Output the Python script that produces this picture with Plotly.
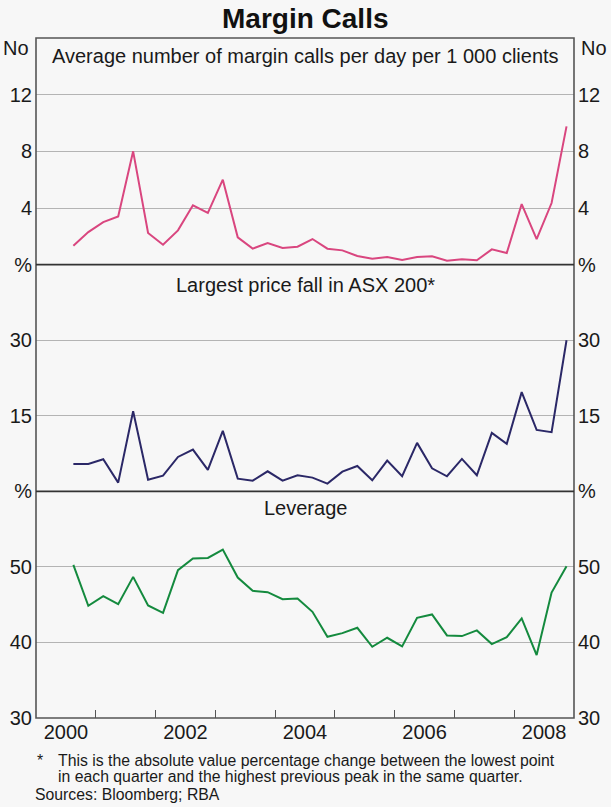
import plotly.graph_objects as go

# Quarters from 2000 Q3 to 2008 Q4
quarters = [f"{y}-Q{q}" for y in range(2000, 2009) for q in range(1, 5)][2:]

margin_calls = [1.34, 2.3, 3.0, 3.4, 8.0, 2.24, 1.41, 2.42, 4.19, 3.65, 6.0, 1.93,
                1.13, 1.53, 1.18, 1.27, 1.81, 1.13, 1.01, 0.61, 0.42, 0.54, 0.33,
                0.54, 0.59, 0.28, 0.38, 0.31, 1.08, 0.82, 4.28, 1.81, 4.35, 9.76]

price_fall = [5.44, 5.44, 6.37, 1.73, 15.9, 2.32, 3.12, 6.83, 8.29, 4.25, 12.0, 2.52,
              2.12, 3.98, 2.12, 3.19, 2.72, 1.53, 3.91, 5.04, 2.19, 6.1, 2.99,
              9.62, 4.58, 2.99, 6.44, 3.19, 11.6, 9.42, 19.7, 12.2, 11.75, 30.0]

leverage = [50.26, 44.85, 46.12, 45.07, 48.68, 44.89, 43.92, 49.56, 51.1, 51.19, 52.29,
            48.59, 46.83, 46.65, 45.73, 45.81, 44.05, 40.75, 41.23, 41.94, 39.43,
            40.62, 39.47, 43.26, 43.7, 40.93, 40.84, 41.59, 39.78, 40.7, 43.17,
            38.33, 46.6, 50.09]

year_labels = ["2000", "2002", "2004", "2006", "2008"]

top_ticks = [0, 4, 8, 12, 16]
top_text = ["", "4", "8", "12", ""]
mid_ticks = [0, 15, 30, 45]
mid_text = ["", "15", "30", "%"]
bot_ticks = [30, 40, 50, 60]
bot_text = ["30", "40", "50", "%"]

x = [int(q[:4]) + (int(q[-1]) - 0.5) / 4 for q in quarters]

FONT = "Arial, Liberation Sans, sans-serif"
TXT = "#1a1a1a"
BG = "#f7f7f7"
GRID = "#b4b4b4"
FRAME = "#555555"
TICK_SIZE = 20

fig = go.Figure()
series = [
    (margin_calls, "#d9467f", "y", "y4"),
    (price_fall, "#2b2867", "y2", "y5"),
    (leverage, "#148a3e", "y3", "y6"),
]
for vals, col, ya, yb in series:
    fig.add_trace(go.Scatter(x=x, y=vals, mode="lines", line=dict(color=col, width=2),
                             xaxis="x", yaxis=ya, showlegend=False))
    fig.add_trace(go.Scatter(x=x, y=vals, mode="lines", line=dict(color="rgba(0,0,0,0)", width=0),
                             xaxis="x", yaxis=yb, showlegend=False, hoverinfo="skip"))

tickfont = dict(family=FONT, size=TICK_SIZE, color=TXT)

def yax(domain, rng, tv, tt, side="left", overlay=None, grid=True):
    d = dict(domain=domain, range=rng, tickvals=tv, ticktext=tt, side=side,
             showgrid=grid, gridcolor=GRID, gridwidth=1, zeroline=False,
             showline=False, ticks="", tickfont=tickfont, fixedrange=True,
             anchor="x", automargin=False, ticklabelstandoff=3)
    if overlay:
        d["overlaying"] = overlay
    return d

d_top = [2/3, 1]
d_mid = [1/3, 2/3]
d_bot = [0, 1/3]

fig.update_layout(
    width=611, height=807,
    paper_bgcolor=BG, plot_bgcolor=BG,
    margin=dict(l=36, r=37, t=38, b=89, autoexpand=False),
    font=dict(family=FONT, color=TXT),
    xaxis=dict(range=[2000, 2009], anchor="y3", showgrid=False, zeroline=False,
               tickvals=[int(y) + 0.5 for y in year_labels], ticktext=year_labels,
               ticks="", tickfont=tickfont, showline=False, fixedrange=True,
               automargin=False,
               minor=dict(tickvals=list(range(2001, 2009)), ticks="inside", ticklen=8,
                          tickcolor=FRAME, tickwidth=1.2)),
    yaxis=yax(d_top, [0, 16], top_ticks, top_text),
    yaxis2=yax(d_mid, [0, 45], mid_ticks, mid_text),
    yaxis3=yax(d_bot, [30, 60], bot_ticks, bot_text),
    yaxis4=yax(d_top, [0, 16], top_ticks, top_text, side="right", overlay="y", grid=False),
    yaxis5=yax(d_mid, [0, 45], mid_ticks, mid_text, side="right", overlay="y2", grid=False),
    yaxis6=yax(d_bot, [30, 60], bot_ticks, bot_text, side="right", overlay="y3", grid=False),
)

shapes = [
    dict(type="rect", xref="paper", yref="paper", x0=0, x1=1, y0=0, y1=1,
         line=dict(color=FRAME, width=1.6)),
    dict(type="line", xref="paper", yref="paper", x0=0, x1=1, y0=1/3, y1=1/3,
         line=dict(color="#333333", width=1.6)),
    dict(type="line", xref="paper", yref="paper", x0=0, x1=1, y0=2/3, y1=2/3,
         line=dict(color="#333333", width=1.6)),
]
fig.update_layout(shapes=shapes)

def px_y(py):
    # convert pixel y (from top of page) to paper coordinate
    return (807 - 89 - py) / (807 - 38 - 89)

ann = [
    ("<b>Margin Calls</b>", 18, 28, "#111111"),
    ("Average number of margin calls per day per 1 000 clients", 56, 20, TXT),
    ("Largest price fall in ASX 200*", 285, 20, TXT),
    ("Leverage", 508, 20, TXT),
]

annotations = []
for text, py, size, color in ann:
    annotations.append(dict(text=text, xref="paper", yref="paper", x=0.5,
                            y=px_y(py), xanchor="center", yanchor="middle",
                            showarrow=False, font=dict(family=FONT, color=color, size=size)))
# "No" unit labels
annotations.append(dict(text="No", xref="paper", yref="paper", x=-0.01, y=px_y(48),
                        xanchor="right", yanchor="middle", showarrow=False,
                        font=dict(family=FONT, size=TICK_SIZE, color=TXT)))
annotations.append(dict(text="No", xref="paper", yref="paper", x=1.01, y=px_y(48),
                        xanchor="left", yanchor="middle", showarrow=False,
                        font=dict(family=FONT, size=TICK_SIZE, color=TXT)))
# footnotes
foot = dict(family=FONT, size=15.8, color=TXT)
annotations.append(dict(text="*", xref="paper", yref="paper", x=(35 - 36) / 538, y=px_y(760),
                        xanchor="left", yanchor="middle", showarrow=False, font=foot))
annotations.append(dict(text="This is the absolute value percentage change between the lowest point",
                        xref="paper", yref="paper", x=(56 - 36) / 538, y=px_y(760),
                        xanchor="left", yanchor="middle", showarrow=False, font=foot))
annotations.append(dict(text="in each quarter and the highest previous peak in the same quarter.",
                        xref="paper", yref="paper", x=(56 - 36) / 538, y=px_y(777),
                        xanchor="left", yanchor="middle", showarrow=False, font=foot))
annotations.append(dict(text="Sources: Bloomberg; RBA",
                        xref="paper", yref="paper", x=(33 - 36) / 538, y=px_y(794),
                        xanchor="left", yanchor="middle", showarrow=False, font=foot))
fig.update_layout(annotations=annotations)

fig.write_html("out.html", config={"displayModeBar": False},
               post_script="document.body.style.margin='0px';")
